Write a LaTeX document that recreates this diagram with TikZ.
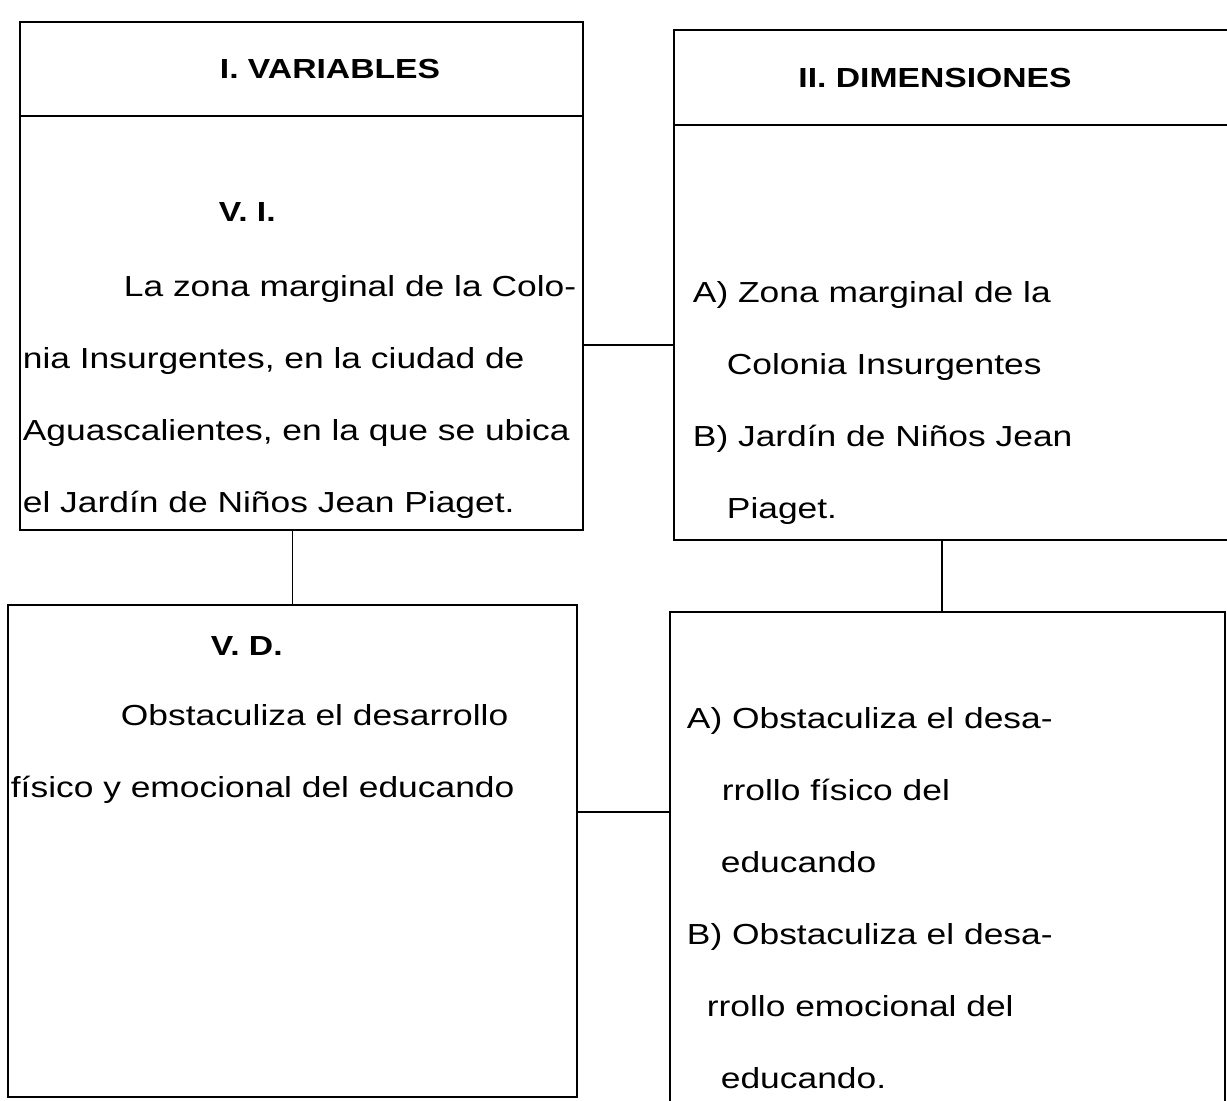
\documentclass[tikz,border=0pt]{standalone}
\usepackage{fontspec}
\setmainfont{Liberation Sans}[FakeStretch=1.22]

\begin{document}
\begin{tikzpicture}[
    x=0.5pt, y=-0.5pt, line width=0.9pt,
    box/.style={draw, rectangle, inner sep=0pt, outer sep=0pt},
    txt/.style={anchor=base west, align=left, inner sep=0pt, font=\fontsize{14.5}{36}\selectfont},
    head/.style={anchor=base, inner sep=0pt, font=\fontsize{13.8}{36}\selectfont\bfseries}
]
\useasboundingbox (0,0) rectangle (1227,1101);

% the four boxes
\node[box, minimum width=281.5pt, minimum height=254pt] (vi) at (301.5,276) {};
\node[box, minimum width=283pt, minimum height=255pt] (dim) at (957,285) {};
\node[box, minimum width=284.5pt, minimum height=246pt] (vd) at (292.5,851) {};
\node[box, minimum width=277.5pt, minimum height=249pt] (dd) at (947.5,861) {};

% header rules
\draw (vi.west |- 0,116) -- (vi.east |- 0,116);
\draw (dim.west |- 0,125) -- (dim.east |- 0,125);

% connectors
\coordinate (h1) at (0,345);
\coordinate (h2) at (0,812);
\coordinate (v2) at (942,0);
\draw (vi.east |- h1) -- (dim.west |- h1);
\draw (vi.south -| vd.north) -- (vd.north);
\draw (dim.south -| v2) -- (dd.north -| v2);
\draw (vd.east |- h2) -- (dd.west |- h2);

% texts (base = last line)
\node[head] (t1) at (330,79) {I. VARIABLES};
\node[head] (t2) at (935,88) {II. DIMENSIONES};
\node[head, anchor=base west] (t3) at (218,222) {V. I.};
\node[txt] (t4) at (22,513) {\hspace*{50.5pt}La zona marginal de la Colo-\\
    nia Insurgentes, en la ciudad de\\
    Aguascalientes, en la que se ubica\\
    el Jardín de Niños Jean Piaget.};
\node[txt] (t5) at (692,519) {A) Zona marginal de la\\
    \hspace*{17pt}Colonia Insurgentes\\
    B) Jardín de Niños Jean\\
    \hspace*{17pt}Piaget.};
\node[head, anchor=base west] (t6) at (210,655) {V. D.};
\node[txt] (t7) at (10,797) {\hspace*{55pt}Obstaculiza el desarrollo\\
    físico y emocional del educando};
\node[txt] (t8) at (686,1088) {A) Obstaculiza el desa-\\
    \hspace*{17.5pt}rrollo físico del\\
    \hspace*{17pt}educando\\
    B) Obstaculiza el desa-\\
    \hspace*{10pt}rrollo emocional del\\
    \hspace*{17pt}educando.};

\end{tikzpicture}
\end{document}
